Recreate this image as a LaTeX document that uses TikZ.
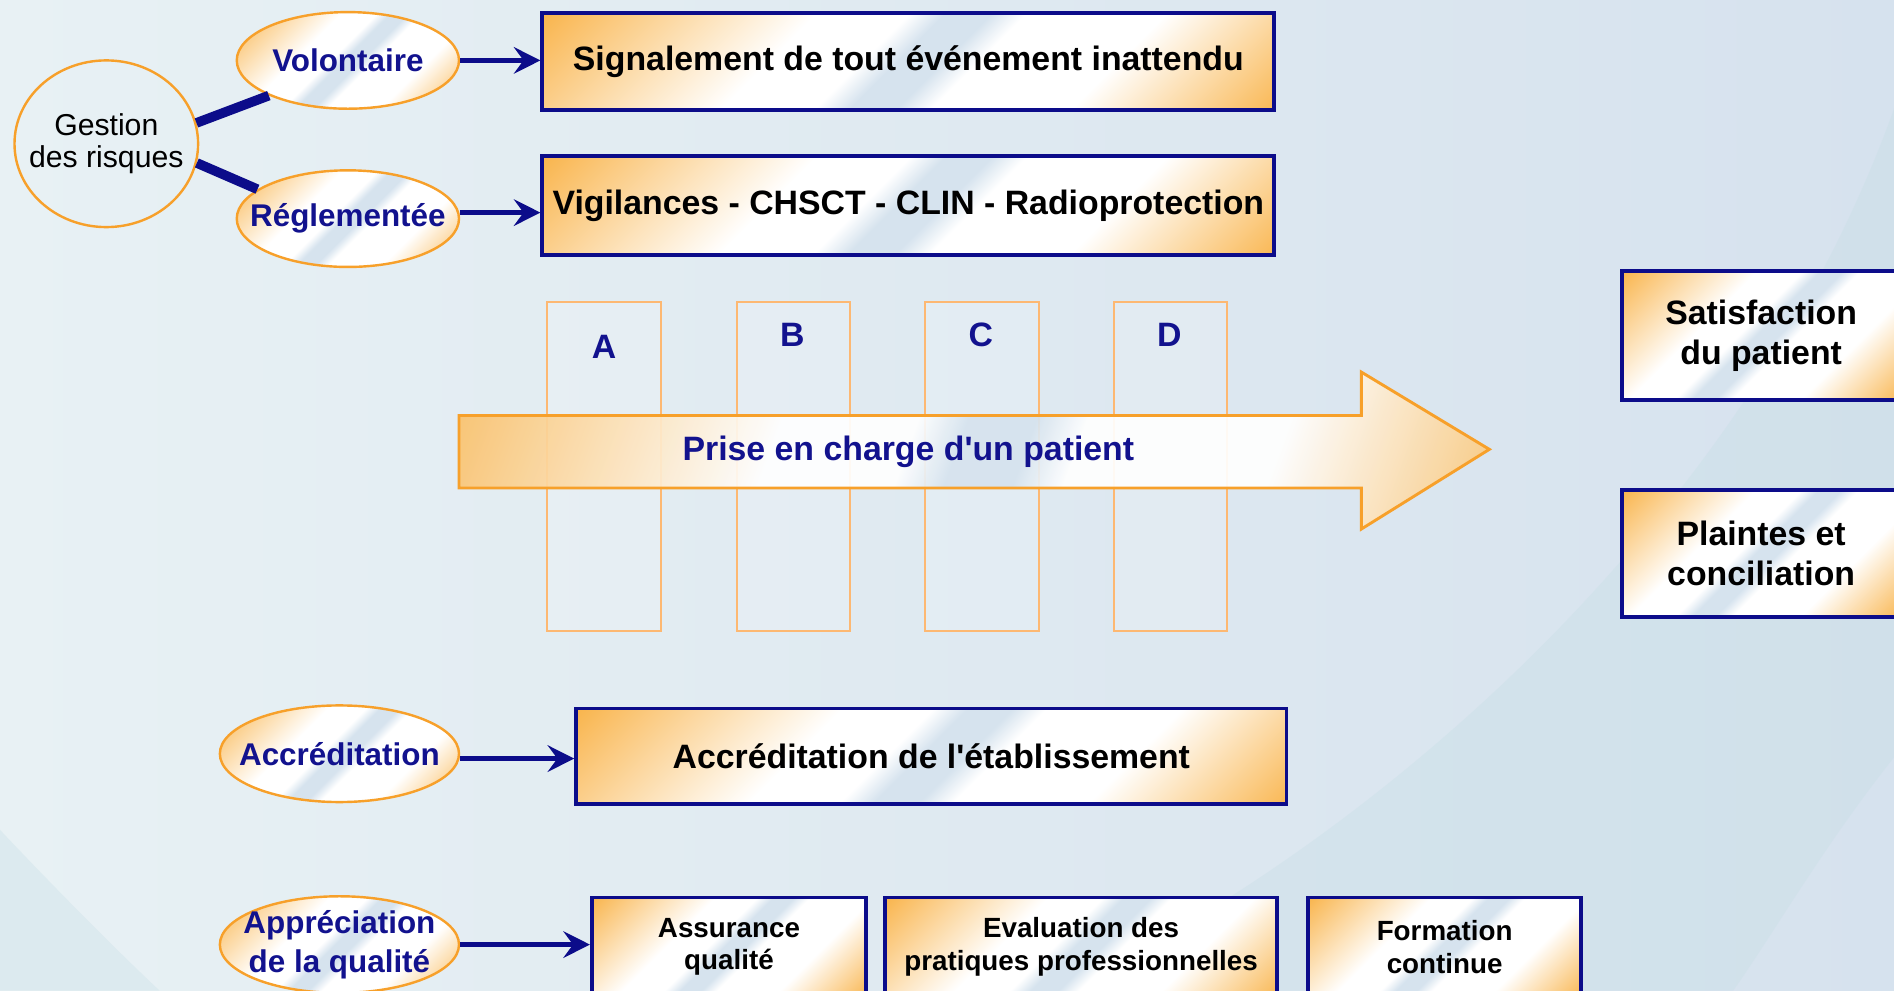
\documentclass[tikz,border=0pt]{standalone}
\usepackage{fontspec}
\setmainfont{Liberation Sans}[Ligatures=TeXOff]
\usetikzlibrary{arrows.meta,shapes.geometric}
\definecolor{navy}{HTML}{12128E}
\definecolor{navyline}{HTML}{0C0C8A}
\definecolor{orF}{HTML}{F9B650}
\definecolor{orB}{HTML}{F7A02A}
\definecolor{colB}{HTML}{FDB872}
\definecolor{stripe}{HTML}{D6E3EE}
\definecolor{bgL}{HTML}{E8F1F4}
\definecolor{bgR}{HTML}{D6E2EE}
\definecolor{teal}{HTML}{C8DFE6}
\pgfdeclarehorizontalshading{boxshade}{100bp}{color(0bp)=(orF); color(15bp)=(orF); color(38bp)=(white); color(46bp)=(white); color(49bp)=(stripe); color(53bp)=(stripe); color(56bp)=(white); color(68bp)=(white); color(86bp)=(orF); color(100bp)=(orF)}
\begin{document}
\begin{tikzpicture}[x=0.5pt,y=-0.5pt,
  box/.style={draw=navyline, line width=1.6pt, shade, shading=boxshade, shading angle=-45,
    inner sep=0pt, align=center, text=black, font=\bfseries\fontsize{14}{16.5}\selectfont},
  smallbox/.style={box, font=\bfseries\fontsize{11.5}{13.5}\selectfont},
  ell/.style={ellipse, draw=orB, line width=1pt, shade, shading=boxshade, shading angle=-45,
    inner sep=0pt},
  elltext/.style={text=navy, align=center, font=\bfseries\fontsize{13}{16}\selectfont},
  col/.style={draw=colB, line width=0.8pt, fill=white, fill opacity=0.15, text opacity=1,
    minimum width=47pt, minimum height=136pt, inner sep=0pt},
  letter/.style={text=navy, font=\bfseries\fontsize{14}{16}\selectfont},
  link/.style={draw=navyline, line width=2pt, -{Stealth[length=11pt,width=11pt,inset=4pt]}},
  branch/.style={draw=navyline, line width=4pt}
]
\useasboundingbox (0,0) rectangle (1568,820);
\clip (0,0) rectangle (1568,820);
% background
\fill[left color=bgL, right color=bgR] (0,0) rectangle (1568,820);
\fill[teal, opacity=0.35] (0,687) .. controls (50,740) and (100,790) .. (132,820) -- (0,820) -- cycle;
\fill[teal, opacity=0.4] (880,820) .. controls (1150,690) and (1450,420) .. (1568,90)
  -- (1568,627) .. controls (1510,700) and (1470,770) .. (1435,820) -- cycle;

% risk management
\node[draw=orB, line width=1pt, ellipse, minimum width=76pt, minimum height=69pt, inner sep=0pt,
  label={[align=center, font=\fontsize{12.5}{13.5}\selectfont]center:{Gestion\\des risques}}] (gestion) at (88,119) {};
\node[ell, minimum width=92pt, minimum height=40pt, label={[elltext]center:Volontaire}] (volont) at (288,50) {};
\node[ell, minimum width=92pt, minimum height=40pt, label={[elltext]center:Réglementée}] (regl) at (288,181) {};
\draw[branch] (gestion.13) -- (volont.204);
\draw[branch] (gestion.-12) -- (regl.162);
\node[box, minimum width=303pt, minimum height=40pt] (signal) at (752,51) {Signalement de tout événement inattendu};
\node[box, minimum width=303pt, minimum height=41pt] (vigil) at (752,170) {Vigilances - CHSCT - CLIN - Radioprotection};
\draw[link] (volont.east) -- (volont.east -| signal.west);
\draw[link] ([yshift=2.5pt]regl.east) -- ([yshift=2.5pt]regl.east -| vigil.west);

% columns
\node[col] (colA) at (500,386) {};
\node[col] (colB) at (657,386) {};
\node[col] (colC) at (813,386) {};
\node[col] (colD) at (969,386) {};
\node[letter] (lA) at (500,287) {A};
\node[letter] (lB) at (656,277) {B};
\node[letter] (lC) at (812,277) {C};
\node[letter] (lD) at (968,277) {D};

% main arrow
\path[draw=orB, line width=1.2pt, shade, shading=boxshade, shading angle=-20, fill opacity=0.92]
  (380,344) -- (1127,344) -- (1127,308) -- (1233,372) -- (1127,438) -- (1127,404) -- (380,404) -- cycle;
\node[letter] (prise) at (752,374) {Prise en charge d'un patient};

% right boxes
\node[box, minimum width=115pt, minimum height=53.5pt] (satis) at (1458,278) {Satisfaction\\du patient};
\node[box, minimum width=115pt, minimum height=52.5pt] (plaint) at (1458,458) {Plaintes et\\conciliation};

% accreditation
\node[ell, minimum width=99pt, minimum height=40pt, label={[elltext]center:Accréditation}] (accr) at (281,624) {};
\node[box, minimum width=294pt, minimum height=39.5pt] (accrbox) at (771,626) {Accréditation de l'établissement};
\draw[link] ([yshift=-2pt]accr.east) -- ([yshift=-2pt]accr.east -| accrbox.west);

% quality
\node[ell, minimum width=99pt, minimum height=40pt, label={[elltext]center:{Appréciation\\de la qualité}}] (appr) at (281,782) {};
\node[smallbox, minimum width=113.5pt, minimum height=41pt] (assur) at (603.5,784) {Assurance\\qualité};
\node[smallbox, minimum width=162pt, minimum height=41pt] (eval) at (895,784) {Evaluation des\\pratiques professionnelles};
\node[smallbox, minimum width=113pt, minimum height=41pt] (form) at (1196,784) {Formation\\continue};
\draw[link] (appr.east) -- (appr.east -| assur.west);
\end{tikzpicture}
\end{document}
